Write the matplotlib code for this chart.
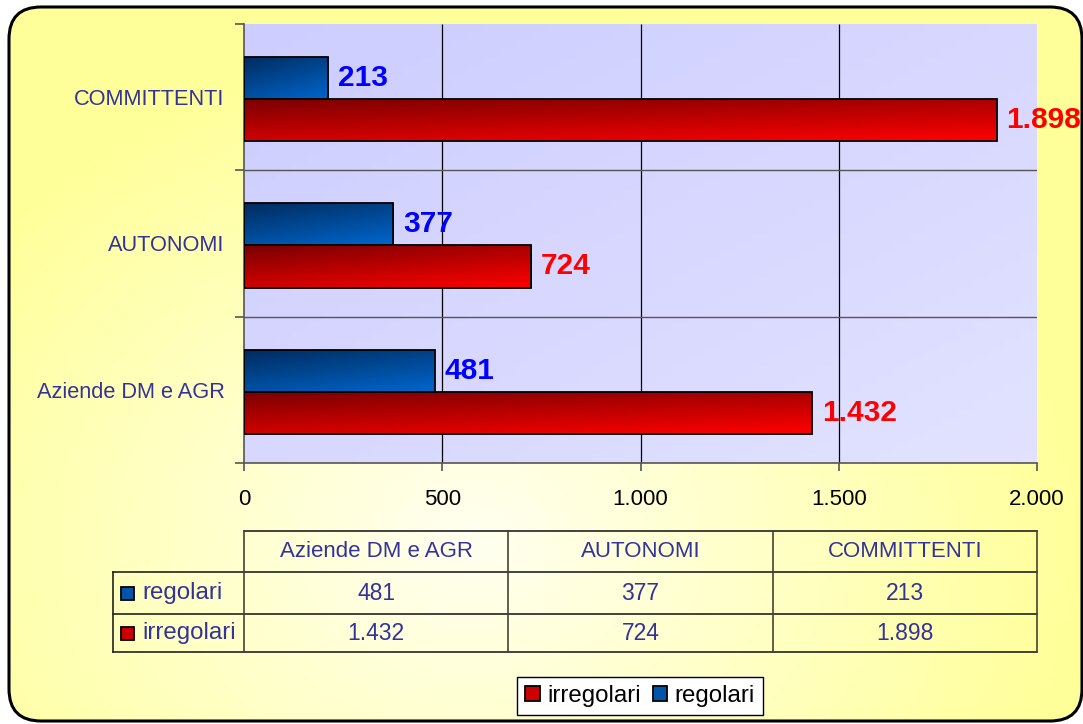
import numpy as np
import matplotlib
matplotlib.use('Agg')
import matplotlib.pyplot as plt
from matplotlib.patches import FancyBboxPatch, Rectangle
from matplotlib.colors import LinearSegmentedColormap

# data
categories = ['Aziende DM e AGR', 'AUTONOMI', 'COMMITTENTI']
regolari = [481, 377, 213]
irregolari = [1432, 724, 1898]
series_names = ['regolari', 'irregolari']
xticks = [0, 500, 1000, 1500, 2000]


def fmt(v):
    return f'{v:,}'.replace(',', '.')


plt.rcParams['font.family'] = ['Liberation Sans', 'DejaVu Sans']

W, H = 1083, 724
fig = plt.figure(figsize=(W / 100, H / 100), dpi=100)
fig.patch.set_facecolor('white')

# yellow rounded background with gradient
bg = fig.add_axes([0, 0, 1, 1], zorder=-5)
bg.set_xlim(0, W)
bg.set_ylim(H, 0)
bg.axis('off')
yy, xx = np.mgrid[0:H:4, 0:W:4]
d = np.clip(np.sqrt(((xx - 470) / 620) ** 2 + ((yy - 540) / 500) ** 2), 0, 1)
ycmap = LinearSegmentedColormap.from_list('yel', ['#FFFFF0', '#FFFF99'])
box = FancyBboxPatch((9, 7), 1073, 714, boxstyle='round,pad=0,rounding_size=32',
                     fc='none', ec='black', lw=2.2, zorder=3)
bg.add_patch(box)
im = bg.imshow(d, cmap=ycmap, extent=[0, W, H, 0], aspect='auto', zorder=1)
im.set_clip_path(box)

# main axes
x0, x1, y0, y1 = 244, 1037, 24, 463
ax = fig.add_axes([x0 / W, 1 - y1 / H, (x1 - x0) / W, (y1 - y0) / H])
ax.set_facecolor('none')

gy, gx = np.mgrid[0:1:50j, 0:1:50j]
pcmap = LinearSegmentedColormap.from_list('lav', ['#CDCDFF', '#E2E2FF'])
ax.imshow(gx * 0.5 + gy * 0.5, cmap=pcmap, extent=[0, 2000, -0.5, 2.5],
          aspect='auto', origin='upper', zorder=0)

ypos = np.arange(len(categories))
shift, off, bh = -0.013, 0.144, 0.288
blue_cmap = LinearSegmentedColormap.from_list('b', ['#002B5E', '#0066CC'])
red_cmap = LinearSegmentedColormap.from_list('r', ['#7A0000', '#FF0000'])
grad = gx * 0.35 + gy * 0.65

for vals, dy, cmap, lcol in [(regolari, off, blue_cmap, '#0000FF'),
                             (irregolari, -off, red_cmap, '#FF0000')]:
    bars = ax.barh(ypos + dy + shift, vals, height=bh, fc='none', ec='black',
                   lw=1.3, zorder=4)
    for b, v in zip(bars, vals):
        bb = b.get_y()
        g = ax.imshow(grad, cmap=cmap, extent=[0, v, bb, bb + bh],
                      aspect='auto', origin='upper', zorder=3)
        g.set_clip_path(b)
        ax.text(v + 25, bb + bh / 2, fmt(v), ha='left', va='center',
                fontsize=21.5, fontweight='bold', color=lcol, zorder=5)

ax.set_xlim(0, 2000)
ax.set_ylim(-0.5, 2.5)

# grid
ax.vlines([500, 1000, 1500], -0.5, 2.5, color='black', lw=0.9, zorder=1)
ax.hlines([0.5, 1.5], 0, 2000, color='#555555', lw=1.0, zorder=1)

for s in ['top', 'right']:
    ax.spines[s].set_visible(False)
for s in ['left', 'bottom']:
    ax.spines[s].set_color('#555555')
    ax.spines[s].set_linewidth(1.2)

ax.set_xticks(xticks)
ax.set_xticklabels([fmt(t) for t in xticks], fontsize=16, color='black')
ax.tick_params(axis='x', length=6, width=1.2, color='#555555', pad=13)
ax.set_yticks([-0.5, 0.5, 1.5, 2.5])
ax.set_yticklabels([])
ax.tick_params(axis='y', which='major', length=6.5, width=1.2, color='#555555')
ax.set_yticks(ypos, minor=True)
ax.set_yticklabels(categories, minor=True, fontsize=15.7, color='#333399')
ax.tick_params(axis='y', which='minor', length=0, pad=14)

# data table
tab = fig.add_axes([0, 0, 1, 1], zorder=2)
tab.set_xlim(0, W)
tab.set_ylim(H, 0)
tab.axis('off')
col_x = np.linspace(x0, x1, len(categories) + 1)
row_y = [531, 572, 614, 652]
lx = 113
lc = '#222222'
tab.plot([x0, x1], [row_y[0]] * 2, color=lc, lw=1.2)
for ry in row_y[1:]:
    tab.plot([lx, x1], [ry] * 2, color=lc, lw=1.2)
for cx in col_x:
    tab.plot([cx, cx], [row_y[0], row_y[-1]], color='#444433', lw=1.2)
tab.plot([lx, lx], [row_y[1], row_y[-1]], color=lc, lw=1.2)

for i, c in enumerate(categories):
    cx = (col_x[i] + col_x[i + 1]) / 2
    tab.text(cx, (row_y[0] + row_y[1]) / 2, c, ha='center', va='center',
             fontsize=16, color='#333399')
    for r, vals in enumerate([regolari, irregolari]):
        tab.text(cx, (row_y[r + 1] + row_y[r + 2]) / 2, fmt(vals[i]), ha='center',
                 va='center', fontsize=16.5, color='#333399')

for r, (name, col) in enumerate(zip(series_names, ['#0055AA', '#CC0000'])):
    cy = (row_y[r + 1] + row_y[r + 2]) / 2
    tab.add_patch(Rectangle((121, cy - 6), 13, 13, fc=col, ec='black', lw=1.3))
    tab.text(142, cy, name, ha='left', va='center', fontsize=17.3, color='#333399')

# legend
handles = [Rectangle((0, 0), 1, 1, fc='#CC0000', ec='black', lw=1.3),
           Rectangle((0, 0), 1, 1, fc='#0055AA', ec='black', lw=1.3)]
leg = fig.legend(handles, ['irregolari', 'regolari'], loc='center',
                 bbox_to_anchor=(640 / W, 1 - 696 / H), ncol=2, fontsize=17.3,
                 frameon=True, fancybox=False, edgecolor='black', framealpha=1,
                 handlelength=0.6, handleheight=0.6, handletextpad=0.3,
                 columnspacing=0.5, borderpad=0.35)
leg.get_frame().set_linewidth(1.0)

fig.savefig('out.png', dpi=100)
